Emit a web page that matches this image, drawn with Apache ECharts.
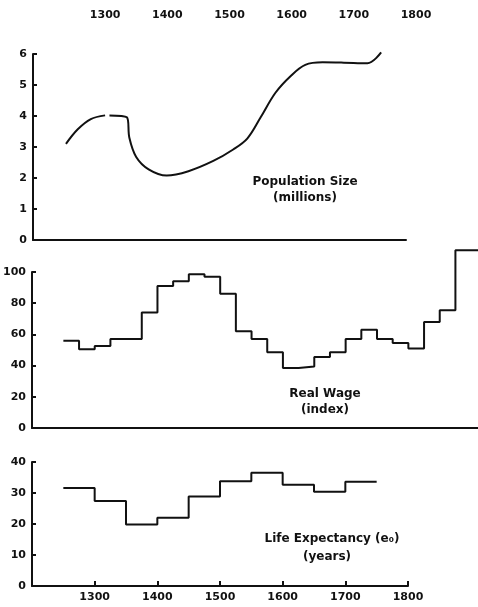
<!DOCTYPE html>
<html>
<head>
<meta charset="utf-8">
<script src="https://cdn.jsdelivr.net/npm/echarts@6/dist/echarts.min.js"></script>
<style>
	html, body { margin: 0; padding: 0; background: #fff; }
	#chart { width: 478px; height: 607px; }
</style>
</head>
<body>
<div id="chart"></div>
<script>
// population size (millions), a null marks the break in the curve
var popYears = [1253, 1272, 1293, 1316, 1319, 1323, 1351, 1355, 1366, 1386, 1415, 1450, 1490, 1522, 1545, 1566, 1590, 1615, 1638, 1666, 1700, 1738, 1760];
var popValues = [3.1, 3.57, 3.9, 4.02, null, 4.02, 3.96, 3.3, 2.68, 2.28, 2.08, 2.22, 2.55, 2.92, 3.28, 3.95, 4.75, 5.3, 5.65, 5.73, 5.72, 5.7, 6.05];

// real wage index, 25-year steps
var wageStarts = [1250, 1275, 1300, 1325, 1350, 1375, 1400, 1425, 1450, 1475, 1500, 1525, 1550, 1575, 1600, 1625, 1650, 1675, 1700, 1725, 1750, 1775, 1800, 1825, 1850, 1875];
var wageValues = [56, 50.5, 52.5, 57, 57, 74, 91, 94, 98.5, 97, 86, 62, 57, 48.5, 38.5, 39.5, 45.5, 48.5, 57, 63, 57, 54.5, 51, 68, 75.5, 114];
var wageEnd = 1911;

// life expectancy (years), 50-year steps
var lifeStarts = [1250, 1300, 1350, 1400, 1450, 1500, 1550, 1600, 1650, 1700];
var lifeValues = [31.6, 27.4, 19.8, 22, 28.9, 33.8, 36.5, 32.7, 30.4, 33.6];
var lifeEnd = 1750;

var yearTicks = [1300, 1400, 1500, 1600, 1700, 1800];

function pairs(xs, ys) {
	var out = [];
	for (var i = 0; i < xs.length; i++) {
		out.push([xs[i], ys[i] === null ? '-' : ys[i]]);
	}
	return out;
}

function steps(starts, values, end) {
	var out = pairs(starts, values);
	out.push([end, values[values.length - 1]]);
	return out;
}

var ink = '#111';
var font = { color: ink, fontFamily: 'DejaVu Sans', fontWeight: 'bold', fontSize: 11 };

function yAxis(grid, max, step) {
	return {
		type: 'value', gridIndex: grid, min: 0, max: max, interval: step,
		axisLine: { show: true, lineStyle: { color: ink, width: 2 } },
		axisTick: { show: true, inside: true, length: 4, lineStyle: { color: ink, width: 2 } },
		axisLabel: Object.assign({ margin: 6 }, font),
		splitLine: { show: false }
	};
}

//说明文字
function note(x, y, text) {
	return {
		type: 'text', x: x, y: y,
		style: { text: text, fill: ink, font: 'bold 12px "DejaVu Sans"', align: 'center', verticalAlign: 'middle' }
	};
}

var option = {
	animation: false,
	backgroundColor: '#fff',
	grid: [
		{ left: 33, right: 72, top: 54, bottom: 367 },
		{ left: 32, right: 0, top: 272, bottom: 179 },
		{ left: 32, right: 70, top: 462, bottom: 21 }
	],
	xAxis: [{
		type: 'value', gridIndex: 0, min: 1200, max: 1800,
		axisLine: { show: true, onZero: false, lineStyle: { color: ink, width: 2 } },
		axisTick: { show: false }, axisLabel: { show: false }, splitLine: { show: false }
	}, {
		type: 'value', gridIndex: 0, position: 'top', min: 1200, max: 1800, interval: 100, offset: 25,
		axisLine: { show: false }, axisTick: { show: false }, splitLine: { show: false },
		axisLabel: Object.assign({
			showMinLabel: false, margin: 8, padding: [0, 0, 0, 20],
			formatter: function(v) { return yearTicks.indexOf(v) >= 0 ? String(v) : ''; }
		}, font)
	}, {
		type: 'value', gridIndex: 1, min: 1200, max: wageEnd,
		axisLine: { show: true, onZero: false, lineStyle: { color: ink, width: 2 } },
		axisTick: { show: false }, axisLabel: { show: false }, splitLine: { show: false }
	}, {
		type: 'value', gridIndex: 2, min: 1200, max: 1800, interval: 100,
		axisLine: { show: true, onZero: false, lineStyle: { color: ink, width: 2 } },
		axisTick: { show: true, inside: true, length: 5, lineStyle: { color: ink, width: 2 } },
		splitLine: { show: false },
		axisLabel: Object.assign({
			showMinLabel: false, margin: 6,
			formatter: function(v) { return yearTicks.indexOf(v) >= 0 ? String(v) : ''; }
		}, font)
	}],
	yAxis: [yAxis(0, 6, 1), yAxis(1, 100, 20), yAxis(2, 40, 10)],
	series: [{
		name: 'Population Size',
		type: 'line', xAxisIndex: 0, yAxisIndex: 0,
		smooth: 0.35, symbol: 'none', connectNulls: false, clip: false,
		lineStyle: { color: ink, width: 2 },
		data: pairs(popYears, popValues)
	}, {
		name: 'Real Wage',
		type: 'line', xAxisIndex: 2, yAxisIndex: 1,
		step: 'end', symbol: 'none', clip: false,
		lineStyle: { color: ink, width: 2 },
		data: steps(wageStarts, wageValues, wageEnd)
	}, {
		name: 'Life Expectancy',
		type: 'line', xAxisIndex: 3, yAxisIndex: 2,
		step: 'end', symbol: 'none',
		lineStyle: { color: ink, width: 2 },
		data: steps(lifeStarts, lifeValues, lifeEnd)
	}],
	graphic: [
		note(305, 182, 'Population Size'),
		note(305, 198, '(millions)'),
		note(325, 394, 'Real Wage'),
		note(325, 410, '(index)'),
		note(332, 539, 'Life Expectancy (e\u2080)'),
		note(327, 557, '(years)')
	]
};

var chart = echarts.init(document.getElementById('chart'));
chart.setOption(option);
</script>
</body>
</html>
